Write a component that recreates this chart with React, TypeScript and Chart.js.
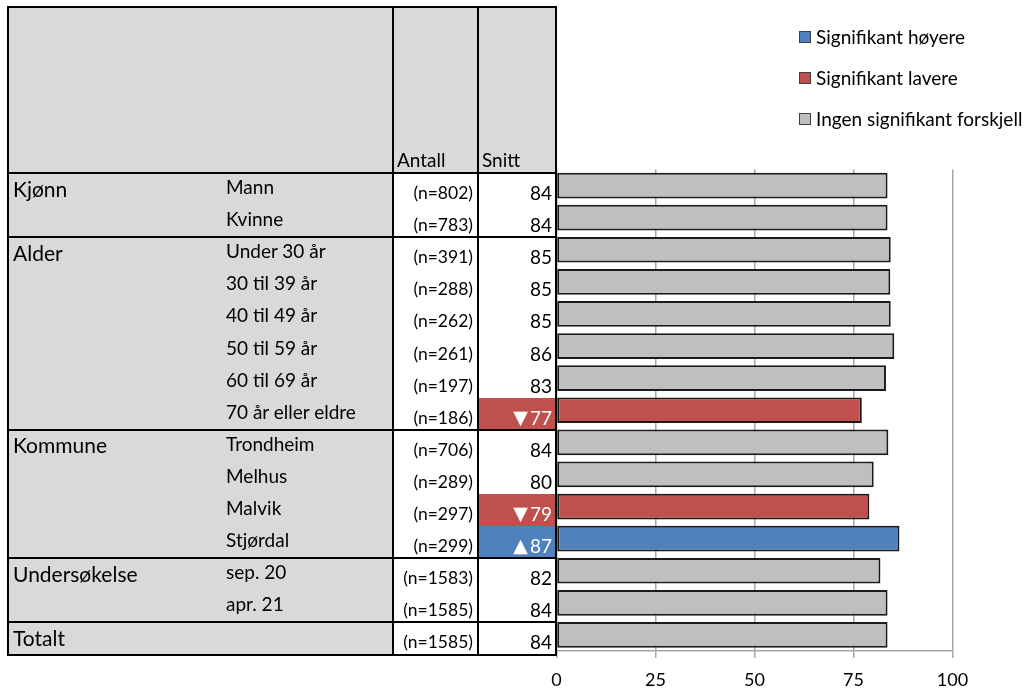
import React, { useEffect, useRef } from "react";
import { Chart, registerables } from "chart.js";

Chart.register(...registerables);

const groups = ["Kjønn", "Alder", "Kommune", "Undersøkelse", "Totalt"];
const groupSizes = [2, 6, 4, 2, 1];
const subLabels = [
  "Mann", "Kvinne",
  "Under 30 år", "30 til 39 år", "40 til 49 år", "50 til 59 år", "60 til 69 år", "70 år eller eldre",
  "Trondheim", "Melhus", "Malvik", "Stjørdal",
  "sep. 20", "apr. 21",
  "",
];
const counts = [802, 783, 391, 288, 262, 261, 197, 186, 706, 289, 297, 299, 1583, 1585, 1585];
const means = [84, 84, 85, 85, 85, 86, 83, 77, 84, 80, 79, 87, 82, 84, 84];
const barValues = [83.6, 83.6, 84.4, 84.3, 84.4, 85.3, 83.2, 77.1, 83.8, 80.1, 79.0, 86.6, 81.8, 83.6, 83.6];
const significance = [
  "none", "none",
  "none", "none", "none", "none", "none", "lower",
  "none", "none", "lower", "higher",
  "none", "none",
  "none",
];
const sigKeys = ["higher", "lower", "none"];
const legendLabels = ["Signifikant høyere", "Signifikant lavere", "Ingen signifikant forskjell"];
const headerLabels = ["Antall", "Snitt"];

const COLORS: Record<string, string> = { higher: "#4f81bd", lower: "#c0504d", none: "#bfbfbf" };
const FONT = "Lato, 'Open Sans', sans-serif";

const ROW_TOP = 173;
const ROW_H = 32.1;
const X_LEFT = 8;
const X_N = 393;
const X_S = 478;
const X_RIGHT = 556;
const HEAD_TOP = 6.7;

function Line({ x1, y1, x2, y2 }: { x1: number; y1: number; x2: number; y2: number }) {
  const w = 2;
  const style: React.CSSProperties =
    y1 === y2
      ? { position: "absolute", left: x1 - w / 2, top: y1 - w / 2, width: x2 - x1 + w, height: w, background: "#000" }
      : { position: "absolute", left: x1 - w / 2, top: y1 - w / 2, width: w, height: y2 - y1 + w, background: "#000" };
  return <div style={style} />;
}

export default function App() {
  const canvasRef = useRef<HTMLCanvasElement | null>(null);

  useEffect(() => {
    const canvas = canvasRef.current;
    if (!canvas) return;
    const labels = subLabels.map((s, i) => s || groups[groups.length - 1] + i);
    const chart = new Chart(canvas, {
      type: "bar",
      data: {
        labels,
        datasets: sigKeys.map((k, di) => ({
          label: legendLabels[di],
          data: barValues.map((v, i) => (significance[i] === k ? v : null)),
          backgroundColor: COLORS[k],
          borderColor: "#1a1a1a",
          borderWidth: 2,
          borderSkipped: false,
          grouped: false,
          barPercentage: 0.8,
          categoryPercentage: 1,
        })),
      },
      options: {
        indexAxis: "y",
        animation: false,
        responsive: false,
        devicePixelRatio: 1,
        layout: { padding: { left: 556.5, top: 169.5, right: 80.5, bottom: 0 } },
        plugins: { legend: { display: false }, tooltip: { enabled: false }, title: { display: false } },
        scales: {
          x: {
            type: "linear",
            min: 0,
            max: 100,
            position: "bottom",
            ticks: { stepSize: 25, color: "#000", font: { family: FONT, size: 18 }, padding: 11 },
            grid: { color: "#a6a6a6", lineWidth: 1.5, tickLength: 7, drawTicks: true },
            border: { color: "#a6a6a6", width: 1.5 },
            afterFit: (s: any) => {
              s.height = 42;
            },
          },
          y: { display: false },
        },
      },
    } as any);
    return () => chart.destroy();
  }, []);

  const rowTop = (i: number) => ROW_TOP + ROW_H * i;
  const groupStarts: number[] = [];
  let acc = 0;
  groupSizes.forEach((n) => {
    groupStarts.push(acc);
    acc += n;
  });
  const nRows = acc;
  const bottom = rowTop(nRows);

  const text = (
    content: React.ReactNode,
    left: number | undefined,
    right: number | undefined,
    cy: number,
    size: number,
    color = "#000",
    key?: string
  ) => (
    <div
      key={key}
      style={{
        position: "absolute",
        left,
        right: right !== undefined ? 1033 - right : undefined,
        top: cy - 12,
        height: 24,
        lineHeight: "24px",
        fontFamily: FONT,
        fontSize: size,
        color,
        whiteSpace: "nowrap",
      }}
    >
      {content}
    </div>
  );

  return (
    <div style={{ position: "absolute", left: 0, top: 0, width: 1033, height: 693, background: "#fff", overflow: "hidden" }}>
      <canvas ref={canvasRef} width={1033} height={693} style={{ position: "absolute", left: 0, top: 0, width: 1033, height: 693 }} />
      {/* header fill */}
      <div style={{ position: "absolute", left: X_LEFT, top: HEAD_TOP, width: X_RIGHT - X_LEFT, height: ROW_TOP - HEAD_TOP, background: "#d9d9d9" }} />
      {/* body fills */}
      <div style={{ position: "absolute", left: X_LEFT, top: ROW_TOP, width: X_N - X_LEFT, height: bottom - ROW_TOP, background: "#d9d9d9" }} />
      <div style={{ position: "absolute", left: X_N, top: ROW_TOP, width: X_RIGHT - X_N, height: bottom - ROW_TOP, background: "#fff" }} />
      {significance.map((s, i) =>
        s !== "none" ? (
          <div
            key={"c" + i}
            style={{ position: "absolute", left: X_S, top: rowTop(i), width: X_RIGHT - X_S, height: ROW_H, background: COLORS[s] }}
          />
        ) : null
      )}
      {/* header labels */}
      {text(headerLabels[0], X_N + 4, undefined, 160, 19, "#000", "h0")}
      {text(headerLabels[1], X_S + 4, undefined, 160, 19, "#000", "h1")}
      {/* group labels */}
      {groups.map((g, gi) => text(g, 13, undefined, rowTop(groupStarts[gi]) + 15.5, 21, "#000", "g" + gi))}
      {subLabels.map((s, i) => (s ? text(s, 226, undefined, rowTop(i) + 14, 19, "#000", "s" + i) : null))}
      {counts.map((c, i) => text(`(n=${c})`, undefined, X_S - 5, rowTop(i) + 20, 17.5, "#000", "n" + i))}
      {means.map((m, i) => {
        const s = significance[i];
        const prefix = s === "higher" ? "▲" : s === "lower" ? "▼" : "";
        const content = (
          <>
            {prefix ? (
              <span
                style={{
                  fontFamily: "'DejaVu Sans', sans-serif",
                  fontSize: 19,
                  marginRight: 2,
                  position: "relative",
                  top: -1,
                  lineHeight: "20px",
                }}
              >
                {prefix}
              </span>
            ) : null}
            {String(m)}
          </>
        );
        return text(content, undefined, X_RIGHT - 4, rowTop(i) + 20, 19, s === "none" ? "#000" : "#fff", "m" + i);
      })}
      {/* lines */}
      <Line x1={X_LEFT} y1={HEAD_TOP} x2={X_RIGHT} y2={HEAD_TOP} />
      <Line x1={X_LEFT} y1={ROW_TOP} x2={X_RIGHT} y2={ROW_TOP} />
      {groupStarts.map((gs, gi) => (
        <Line key={"gl" + gi} x1={X_LEFT} y1={rowTop(gs + groupSizes[gi])} x2={X_RIGHT} y2={rowTop(gs + groupSizes[gi])} />
      ))}
      {[X_LEFT, X_N, X_S, X_RIGHT].map((x, i) => (
        <Line key={"v" + i} x1={x} y1={HEAD_TOP} x2={x} y2={bottom} />
      ))}
      {/* legend */}
      {legendLabels.map((l, i) => (
        <React.Fragment key={"lg" + i}>
          <div
            style={{
              position: "absolute",
              left: 799,
              top: 31 + i * 41,
              width: 12,
              height: 12,
              boxSizing: "border-box",
              border: "1px solid #404040",
              background: COLORS[sigKeys[i]],
            }}
          />
          {text(l, 816, undefined, 37 + i * 41, 19, "#000", "lt" + i)}
        </React.Fragment>
      ))}
    </div>
  );
}
